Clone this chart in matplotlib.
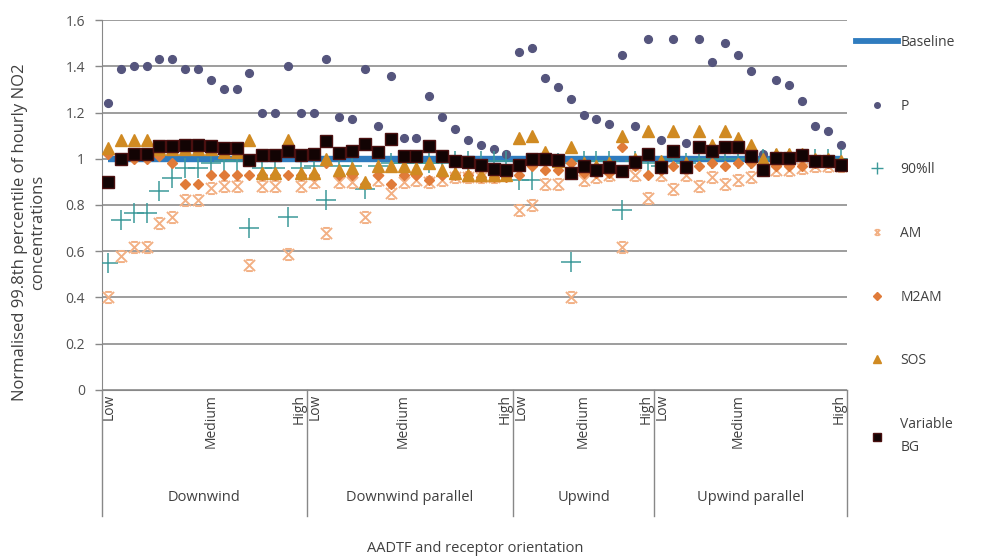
import matplotlib
matplotlib.use("Agg")
import matplotlib.pyplot as plt
from matplotlib.lines import Line2D
from matplotlib.path import Path
import numpy as np

plt.rcParams['font.family'] = ['Open Sans', 'DejaVu Sans']

# category structure
groups = ["Downwind", "Downwind parallel", "Upwind", "Upwind parallel"]
group_sizes = [16, 16, 11, 15]
medium_pos = [8, 7, 5, 6]   # where the "Medium" label sits inside each group

# series values
baseline = [1.0] * 58
p_vals = [1.24, 1.39, 1.40, 1.40, 1.43, 1.43, 1.39, 1.39, 1.34, 1.30, 1.30, 1.37, 1.20, 1.20, 1.40, 1.20,
          1.20, 1.43, 1.18, 1.17, 1.39, 1.14, 1.36, 1.09, 1.09, 1.27, 1.18, 1.13, 1.08, 1.06, 1.04, 1.02,
          1.46, 1.48, 1.35, 1.31, 1.26, 1.19, 1.17, 1.15, 1.45, 1.14, 1.52,
          1.08, 1.52, 1.07, 1.52, 1.42, 1.50, 1.45, 1.38, 1.02, 1.34, 1.32, 1.25, 1.14, 1.12, 1.06]
ll90 = [0.55, 0.735, 0.765, 0.765, 0.86, 0.915, 0.96, 0.96, 0.98, 0.99, 0.99, 0.70, 0.96, 0.96, 0.75, 0.96,
        0.97, 0.82, 0.97, 0.97, 0.87, 0.97, 0.98, 0.98, 0.98, 0.98, 0.98, 0.99, 0.99, 0.99, 0.99, 0.99,
        0.91, 0.91, 0.98, 0.98, 0.555, 0.99, 0.99, 0.99, 0.78, 0.99, 0.98,
        0.97, 1.0, 0.98, 1.0, 1.0, 1.0, 1.0, 1.0, 1.0, 1.0, 1.0, 1.0, 1.0, 1.0, 1.0]
am = [0.40, 0.58, 0.62, 0.62, 0.72, 0.75, 0.82, 0.82, 0.875, 0.88, 0.88, 0.54, 0.88, 0.88, 0.59, 0.88,
      0.90, 0.68, 0.90, 0.90, 0.75, 0.91, 0.85, 0.90, 0.91, 0.90, 0.91, 0.92, 0.92, 0.92, 0.92, 0.93,
      0.78, 0.80, 0.89, 0.89, 0.40, 0.91, 0.92, 0.93, 0.62, 0.93, 0.83,
      0.93, 0.87, 0.93, 0.88, 0.92, 0.89, 0.91, 0.92, 0.95, 0.95, 0.95, 0.96, 0.97, 0.97, 0.97]
m2am = [1.02, 1.0, 1.0, 1.0, 1.01, 0.98, 0.89, 0.89, 0.93, 0.93, 0.93, 0.93, 0.93, 0.93, 0.93, 0.93,
        0.93, 0.98, 0.93, 0.93, 0.89, 0.93, 0.89, 0.93, 0.93, 0.91, 0.93, 0.93, 0.93, 0.92, 0.92, 0.92,
        0.93, 0.97, 0.95, 0.95, 0.98, 0.94, 0.94, 0.94, 1.05, 0.97, 0.93,
        0.95, 0.97, 0.96, 0.97, 0.98, 0.97, 0.98, 0.98, 0.96, 0.97, 0.97, 0.97, 0.98, 0.98, 0.98]
sos = [1.045, 1.08, 1.08, 1.08, 1.04, 1.04, 1.04, 1.04, 1.04, 1.03, 1.03, 1.08, 0.94, 0.94, 1.08, 0.94,
       0.94, 1.0, 0.95, 0.96, 0.90, 0.97, 0.97, 0.97, 0.96, 0.98, 0.95, 0.94, 0.93, 0.93, 0.93, 0.93,
       1.09, 1.10, 1.03, 0.99, 1.05, 0.98, 0.97, 0.98, 1.10, 1.00, 1.12,
       0.99, 1.12, 0.98, 1.12, 1.06, 1.12, 1.09, 1.06, 1.0, 1.02, 1.02, 1.02, 1.0, 1.0, 0.99]
var_bg = [0.90, 1.00, 1.02, 1.02, 1.055, 1.055, 1.06, 1.06, 1.055, 1.045, 1.045, 0.995, 1.015, 1.015, 1.035, 1.015,
          1.02, 1.075, 1.025, 1.035, 1.065, 1.03, 1.085, 1.01, 1.01, 1.055, 1.01, 0.99, 0.985, 0.975, 0.955, 0.95,
          0.975, 1.0, 1.0, 0.995, 0.94, 0.97, 0.95, 0.965, 0.945, 0.985, 1.02,
          0.965, 1.035, 0.965, 1.05, 1.035, 1.05, 1.05, 1.01, 0.95, 1.005, 1.005, 1.015, 0.99, 0.99, 0.975]

n = sum(group_sizes)
x = np.arange(n)

# excel-like "star" marker: X with bars top and bottom
star = Path([(-1, -1), (1, 1), (-1, 1), (1, -1), (-0.6, 1), (0.6, 1), (-0.6, -1), (0.6, -1)],
            [Path.MOVETO, Path.LINETO, Path.MOVETO, Path.LINETO,
             Path.MOVETO, Path.LINETO, Path.MOVETO, Path.LINETO])

fig = plt.figure(figsize=(9.86, 5.57), dpi=100)
ax = fig.add_axes([0.103, 0.30, 0.756, 0.664])

c_base = '#2f7cbf'
c_p = '#55557d'
c_90 = '#3d9a9a'
c_am = '#f2b084'
c_m2 = '#e07b39'
c_sos = '#d08a22'
c_bg = '#120404'
c_txt = '#404040'

ax.plot(x, baseline, color=c_base, lw=4.6, solid_capstyle='butt', zorder=3)
ax.plot(x, p_vals, 'o', color=c_p, ms=5.6, zorder=4)
ax.plot(x, ll90, '+', color=c_90, ms=14, mew=1.1, zorder=4)
ax.plot(x, am, ls='none', marker=star, color=c_am, ms=8, mew=1.4, zorder=4)
ax.plot(x, m2am, 'D', color=c_m2, ms=5, zorder=4)
ax.plot(x, sos, '^', color=c_sos, ms=8, zorder=4)
ax.plot(x, var_bg, 's', color=c_bg, mec='#4a1010', ms=9, zorder=5)

ax.set_xlim(-0.5, n - 0.5)
ax.set_ylim(0, 1.6)
ax.set_yticks(np.arange(0, 1.61, 0.2))
ax.set_yticklabels(["0", "0.2", "0.4", "0.6", "0.8", "1", "1.2", "1.4", "1.6"])
ax.tick_params(axis='y', direction='out', length=5, width=1, color='#888888',
               labelsize=10, labelcolor='#505050', pad=7)
ax.grid(axis='y', color='#8c8c8c', lw=1.2)
ax.set_axisbelow(True)
for s in ['top', 'right']:
    ax.spines[s].set_visible(False)
ax.spines['left'].set_color('#888888')
ax.spines['bottom'].set_color('#888888')

# multi-level category axis (Low / Medium / High within each orientation group)
ticks, labels = [], []
start = 0
bounds = [-0.5]
for g, size, m in zip(groups, group_sizes, medium_pos):
    ticks += [start + 0.12, start + m, start + size - 1 - 0.12]
    labels += ["Low", "Medium", "High"]
    ax.text(start + (size - 1) / 2, -0.29, g, transform=ax.get_xaxis_transform(),
            ha='center', va='center', fontsize=10.5, color=c_txt)
    start += size
    bounds.append(start - 0.5)
ax.set_xticks(ticks)
ax.set_xticklabels(labels, rotation=90, fontsize=10, color=c_txt)
ax.tick_params(axis='x', length=0, pad=3)
for b in bounds:
    ax.plot([b, b], [0, -0.34], transform=ax.get_xaxis_transform(), clip_on=False,
            color='#888888', lw=1)

ax.set_ylabel("Normalised 99.8th percentile of hourly NO2\nconcentrations",
              fontsize=12, color=c_txt, linespacing=1.2)
ax.yaxis.set_label_coords(-0.074, 0.427)
fig.text(0.482, 1 - 548 / 557, "AADTF and receptor orientation", ha='center', va='center',
         fontsize=10.5, color=c_txt)

handles = [
    Line2D([], [], color=c_base, lw=4.2),
    Line2D([], [], ls='none', marker='o', color=c_p, ms=4),
    Line2D([], [], ls='none', marker='+', color=c_90, ms=8, mew=1),
    Line2D([], [], ls='none', marker=star, color=c_am, ms=4, mew=1.2),
    Line2D([], [], ls='none', marker='D', color=c_m2, ms=4),
    Line2D([], [], ls='none', marker='^', color=c_sos, ms=6),
    Line2D([], [], ls='none', marker='s', color=c_bg, mec='#4a1010', ms=6),
]
names = ["Baseline", "P", "90%ll", "AM", "M2AM", "SOS", "Variable\nBG"]
leg = fig.legend(handles, names, loc='upper left', bbox_to_anchor=(0.868, 0.937), frameon=False,
                 borderaxespad=0, borderpad=0, labelspacing=3.5, handlelength=3.0,
                 handletextpad=0.2, fontsize=10, labelcolor=c_txt)
leg.get_texts()[-1].set_linespacing(1.75)

fig.savefig("out.png", dpi=100)
